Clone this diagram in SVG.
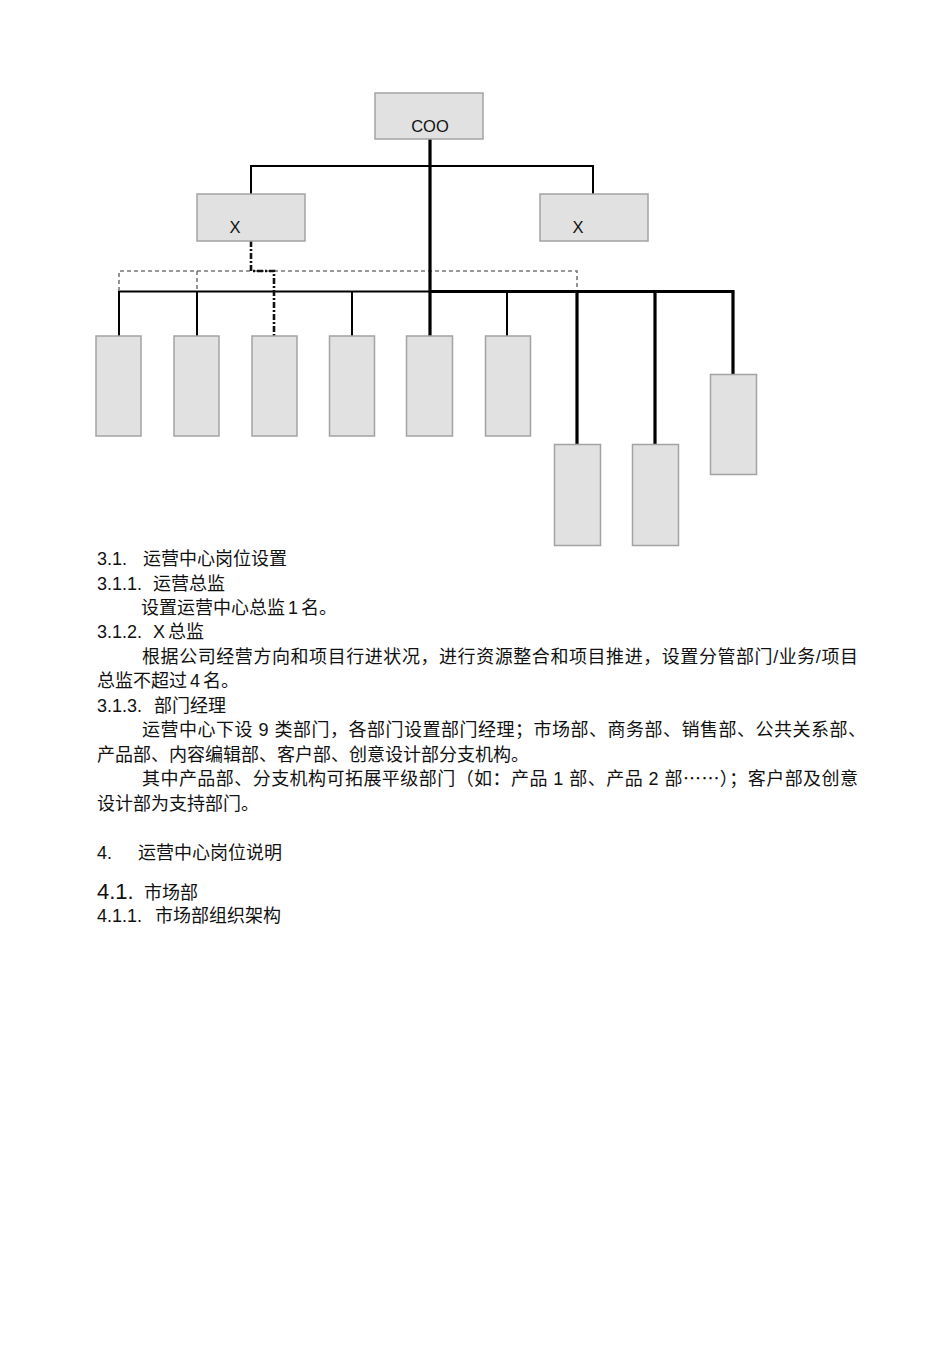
<svg xmlns="http://www.w3.org/2000/svg" width="950" height="1345" viewBox="0 0 950 1345">
<style>
.box{fill:#e1e1e1;stroke:#a3a3a3;stroke-width:1.5}
.lbl{font-family:"Liberation Sans","Noto Sans CJK SC",sans-serif;font-size:16.5px;fill:#111}
.t{font-family:"Liberation Sans","Noto Sans CJK SC",sans-serif;font-size:18px;fill:#111}
.cjk{font-family:"Noto Sans CJK SC",sans-serif}
.thin{stroke:#000;stroke-width:2;fill:none}
.thick{stroke:#000;stroke-width:3.2;fill:none}
.gd{stroke:#777;stroke-width:1.6;fill:none;stroke-dasharray:4 3}
.bd{stroke:#111;stroke-width:2.6;fill:none;stroke-dasharray:6 2 2 2}
</style>
<rect width="950" height="1345" fill="#fff"/>
<g id="connectors">
  <path class="thin" d="M251 166H593M251 165V194M593 165V194"/>
  <path class="thin" d="M119 291.5H430"/>
  <path class="thin" d="M119 291V336M197 291V336M352 291V336M507 291V336"/>
  <path class="gd" d="M119 291V271H577V291M197 271V291"/>
  <path class="thick" d="M430 139V336"/>
  <path class="thick" d="M430 291.5H733V374M577 291V444M655 291V444"/>
  <path class="bd" d="M251 241V271H274V336"/>
</g>
<g id="coo"><rect class="box" x="375" y="93" width="108" height="46"/><text class="lbl" x="430" y="132" text-anchor="middle">COO</text></g>
<g id="x-left"><rect class="box" x="197" y="194" width="108" height="47"/><text class="lbl" x="235" y="233" text-anchor="middle">X</text></g>
<g id="x-right"><rect class="box" x="540" y="194" width="108" height="47"/><text class="lbl" x="578" y="233" text-anchor="middle">X</text></g>
<g id="dept1"><rect class="box" x="96" y="336" width="45" height="100"/></g>
<g id="dept2"><rect class="box" x="174" y="336" width="45" height="100"/></g>
<g id="dept3"><rect class="box" x="252" y="336" width="45" height="100"/></g>
<g id="dept4"><rect class="box" x="329.5" y="336" width="45" height="100"/></g>
<g id="dept5"><rect class="box" x="406.5" y="336" width="46" height="100"/></g>
<g id="dept6"><rect class="box" x="485.5" y="336" width="45" height="100"/></g>
<g id="dept7"><rect class="box" x="554.5" y="444.5" width="46" height="101"/></g>
<g id="dept8"><rect class="box" x="632.5" y="444.5" width="46" height="101"/></g>
<g id="dept9"><rect class="box" x="710.5" y="374.5" width="46" height="100"/></g>
<g id="text">
  <text class="t" x="97" y="565">3.1.</text><text class="t" x="143" y="565">运营中心岗位设置</text>
  <text class="t" x="97" y="590">3.1.1.</text><text class="t" x="153" y="590">运营总监</text>
  <text class="t" x="141" y="614">设置运营中心总监<tspan dx="3">1</tspan><tspan dx="3">名。</tspan></text>
  <text class="t" x="97" y="638">3.1.2.</text><text class="t" x="153" y="638">X<tspan dx="3">总监</tspan></text>
  <text class="t" x="142" y="663" textLength="716" lengthAdjust="spacing">根据公司经营方向和项目行进状况，进行资源整合和项目推进，设置分管部门/业务/项目</text>
  <text class="t" x="97" y="687">总监不超过<tspan dx="3">4</tspan><tspan dx="3">名。</tspan></text>
  <text class="t" x="97" y="712">3.1.3.</text><text class="t" x="154" y="712">部门经理</text>
  <text class="t" x="142" y="736" textLength="724" lengthAdjust="spacing">运营中心下设 9 类部门，各部门设置部门经理；市场部、商务部、销售部、公共关系部、</text>
  <text class="t" x="97" y="761">产品部、内容编辑部、客户部、创意设计部分支机构。</text>
  <text class="t" x="142" y="785" textLength="716" lengthAdjust="spacing">其中产品部、分支机构可拓展平级部门（如：产品 1 部、产品 2 部<tspan class="cjk">……</tspan>）；客户部及创意</text>
  <text class="t" x="97" y="810">设计部为支持部门。</text>
  <text class="t" x="97" y="859">4.</text><text class="t" x="138" y="859">运营中心岗位说明</text>
  <text class="t" x="97" y="899" style="font-size:22px">4.1.</text><text class="t" x="144" y="899">市场部</text>
  <text class="t" x="97" y="922">4.1.1.</text><text class="t" x="155" y="922">市场部组织架构</text>
</g>
</svg>
